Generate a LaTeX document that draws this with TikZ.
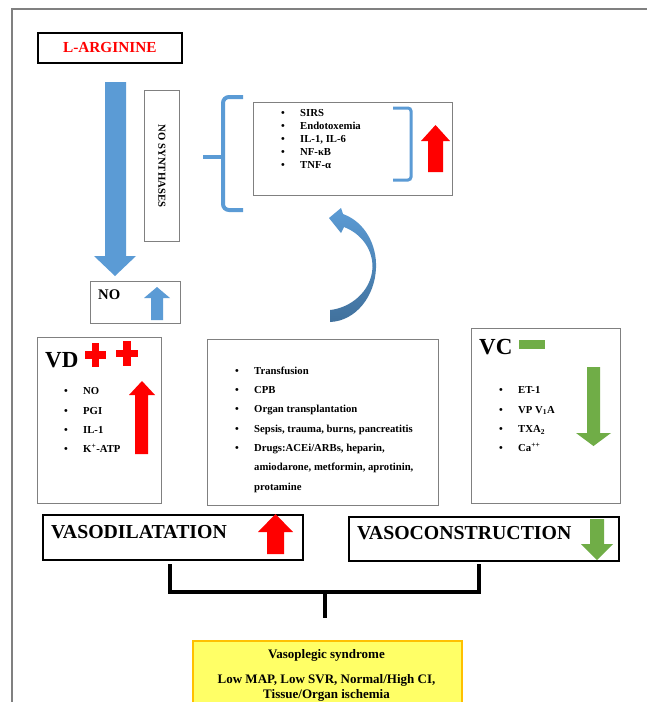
\documentclass[tikz,border=0pt]{standalone}
\usepackage{fontspec}
\setmainfont{Liberation Serif}
\definecolor{oblue}{HTML}{5B9BD5}
\definecolor{oblued}{HTML}{41719C}
\definecolor{ored}{HTML}{FF0000}
\definecolor{ogreen}{HTML}{70AD47}
\definecolor{oyellow}{HTML}{FFFF66}
\definecolor{oorange}{HTML}{FFC000}
\definecolor{boxgray}{HTML}{808080}
\begin{document}
\begin{tikzpicture}[x=1pt,y=-1pt,
  graybox/.style={draw=boxgray, line width=0.9pt, inner sep=0pt, anchor=north west},
  blackbox/.style={draw=black, line width=1.6pt, inner sep=0pt, anchor=north west},
  blist/.style={anchor=north west, inner sep=0pt, align=left, font=\fontsize{10.7}{19.3}\selectfont\bfseries},
  ilist/.style={anchor=north west, inner sep=0pt, align=left, font=\fontsize{10.7}{13}\selectfont\bfseries},
  bigtitle/.style={anchor=west, inner sep=0pt, font=\fontsize{23}{25}\selectfont\bfseries},
  midtitle/.style={anchor=west, inner sep=0pt, font=\fontsize{19.8}{22}\selectfont\bfseries},
  bracefill/.style={draw=oblue, line width=4pt},
  connector/.style={draw=black, line width=4pt}
]
\newcommand{\bul}{\makebox[19pt][l]{\textbullet}}
\newcommand{\ind}{\hspace*{19pt}}
\useasboundingbox (0,0) rectangle (646,702);
\fill[white] (0,0) rectangle (646,702);
% outer frame
\draw[boxgray, line width=1.2pt] (12,706) -- (12,9) -- (650,9);

% L-ARGININE
\node[blackbox, minimum width=144pt, minimum height=30pt, text=ored,
      font=\fontsize{15.3}{17}\selectfont\bfseries] (larg) at (37,32) {L-ARGININE};

% big blue arrow
\fill[oblue] (105,82) -- (126,82) -- (126,256) -- (136,256) -- (115,276) -- (94,256) -- (105,256) -- cycle;

% NO SYNTHASES
\node[graybox, minimum width=35pt, minimum height=151pt] (nos) at (144,90) {};
\node[rotate=-90, inner sep=0pt, font=\fontsize{10.7}{13}\selectfont\bfseries] (nostext) at (nos.center) {NO SYNTHASES};

% NO box
\node[graybox, minimum width=90pt, minimum height=42pt] (nobox) at (90,281) {};
\node[anchor=west, inner sep=0pt, font=\fontsize{14.7}{16}\selectfont\bfseries] (notext) at (98,295) {NO};
\fill[oblue] (151,320) -- (163,320) -- (163,298) -- (170,298) -- (157,287) -- (144,298) -- (151,298) -- cycle;

% brace
\draw[bracefill, rounded corners=6pt] (243,97) -- (223,97) -- (223,210) -- (243,210);
\draw[bracefill] (203,157) -- (223,157);

% inflammation box
\node[graybox, minimum width=199pt, minimum height=93pt] (infl) at (253,102) {};
\node[ilist] (infltext) at (281,109.5) {\bul SIRS\\ \bul Endotoxemia\\ \bul IL-1, IL-6\\ \bul NF-κB\\ \bul TNF-α};
\draw[oblue, line width=3pt, rounded corners=3pt] (393,108) -- (411,108) -- (411,180) -- (393,180);
\fill[ored] (428,172) -- (443,172) -- (443,141) -- (450,141) -- (435.5,125) -- (421,141) -- (428,141) -- cycle;

% curved arrow
\shade[top color=oblue, bottom color=oblued] (329,218) -- (341,208) -- (343,214)
   .. controls (365,222) and (377,245) .. (376,268)
   .. controls (375,296) and (356,321) .. (330,322) -- (330,310)
   .. controls (350,308) and (371,292) .. (372.5,268)
   .. controls (373,250) and (362,234) .. (344,227) -- (341,233) -- cycle;

% VD box
\node[graybox, minimum width=124pt, minimum height=166pt] (vd) at (37,337) {};
\node[bigtitle] (vdtext) at (45,360) {VD};
\fill[ored] (85,351.2) rectangle (106,358.8);
\fill[ored] (91.7,343) rectangle (99.3,367);
\fill[ored] (116,349.7) rectangle (138,357.3);
\fill[ored] (123.2,341) rectangle (130.8,366);
\node[blist] (vdlist) at (64,387.5) {\bul NO\\ \bul PGI\\ \bul IL-1\\ \bul K\textsuperscript{+}-ATP};
\fill[ored] (135,454) -- (148,454) -- (148,395) -- (155,395) -- (142,381) -- (129,395) -- (135,395) -- cycle;

% middle box
\node[graybox, minimum width=231pt, minimum height=166pt] (mid) at (207,339) {};
\node[blist] (midlist) at (235,366.5) {\bul Transfusion\\ \bul CPB\\ \bul Organ transplantation\\ \bul Sepsis, trauma, burns, pancreatitis\\ \bul Drugs:ACEi/ARBs, heparin,\\ \ind amiodarone, metformin, aprotinin,\\ \ind protamine};

% VC box
\node[graybox, minimum width=149pt, minimum height=175pt] (vc) at (471,328) {};
\node[bigtitle] (vctext) at (479,347) {VC};
\fill[ogreen] (519,340) rectangle (545,349);
\node[blist] (vclist) at (499,386.5) {\bul ET-1\\ \bul VP V\textsubscript{1}A\\ \bul TXA\textsubscript{2}\\ \bul Ca\textsuperscript{++}};
\fill[ogreen] (587,367) -- (600,367) -- (600,433) -- (611,433) -- (593.5,446) -- (576,433) -- (587,433) -- cycle;

% bottom boxes
\node[blackbox, minimum width=260pt, minimum height=45pt] (vdil) at (42,514) {};
\node[midtitle] (vdiltext) at (51,532) {VASODILATATION};
\fill[ored] (267,554) -- (284,554) -- (284,532) -- (293,532) -- (275.5,514) -- (258,532) -- (267,532) -- cycle;

\node[blackbox, minimum width=270pt, minimum height=44pt] (vcon) at (348,516) {};
\node[midtitle] (vcontext) at (357,533) {VASOCONSTRUCTION};
\fill[ogreen] (590,519) -- (604,519) -- (604,544) -- (613,544) -- (597,560) -- (581,544) -- (590,544) -- cycle;

% connectors
\coordinate (c1) at (170,564);
\coordinate (c2) at (479,564);
\coordinate (cm) at (324.5,592);
\coordinate (c3) at (324.5,618);
\draw[connector] (c1) |- (cm) -| (c2);
\draw[connector] (cm) -- (c3);

% result box
\node[draw=oorange, fill=oyellow, line width=1.5pt, inner sep=0pt, anchor=north west,
      minimum width=269pt, minimum height=70pt] (res) at (192,640) {};
\node[anchor=north, inner sep=0pt, align=center, font=\fontsize{13}{15}\selectfont\bfseries] (restext) at (326.5,649.5)
   {Vasoplegic syndrome\\[10pt] Low MAP, Low SVR, Normal/High CI,\\ Tissue/Organ ischemia};
\end{tikzpicture}
\end{document}
